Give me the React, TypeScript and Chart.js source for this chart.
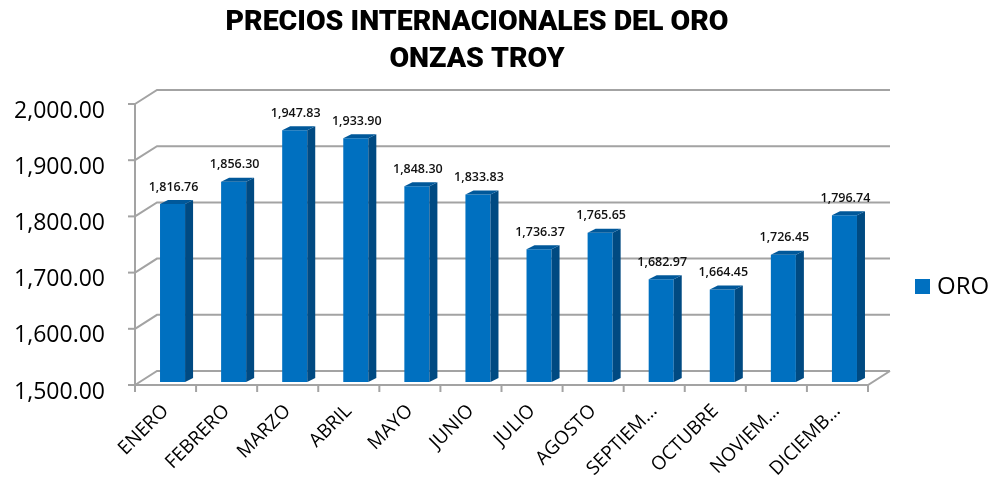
import React, { useEffect, useRef } from 'react';
import { Chart, registerables } from 'chart.js';

Chart.register(...registerables);

// ---- data ----
const months = ['ENERO', 'FEBRERO', 'MARZO', 'ABRIL', 'MAYO', 'JUNIO', 'JULIO', 'AGOSTO', 'SEPTIEM…', 'OCTUBRE', 'NOVIEM…', 'DICIEMB…'];
const oroValues = [1816.76, 1856.3, 1947.83, 1933.9, 1848.3, 1833.83, 1736.37, 1765.65, 1682.97, 1664.45, 1726.45, 1796.74];
const seriesName = 'ORO';
const titleLines = ['PRECIOS INTERNACIONALES DEL ORO', 'ONZAS TROY'];
const yMin = 1500;
const yMax = 2000;
const yStep = 100;

// ---- style ----
const FRONT_COLOR = '#0070C0';
const TOP_COLOR = '#00589A';
const SIDE_COLOR = '#004A82';
const GRID_COLOR = '#A3A3A3';
const FRONT = { dx: -7, dy: 3 };
const BACK = { dx: 15, dy: -11 };
const SIDE = { dx: 8, dy: -4 };

const fmt = (v: number) =>
  v.toLocaleString('en-US', { minimumFractionDigits: 2, maximumFractionDigits: 2 });

const wallsPlugin = {
  id: 'walls3d',
  afterLayout(chart: any) {
    const t = chart.titleBlock;
    if (t) {
      t.right = chart.width - 45;
      t.width = t.right - t.left;
    }
  },
  beforeDatasetsDraw(chart: any) {
    const { ctx, chartArea: ca } = chart;
    const ys = chart.scales.y;
    const xs = chart.scales.x;
    ctx.save();
    ctx.strokeStyle = GRID_COLOR;
    ctx.lineWidth = 2;
    ctx.lineCap = 'butt';
    for (let v = yMin; v <= yMax; v += yStep) {
      const py = ys.getPixelForValue(v);
      ctx.beginPath();
      ctx.moveTo(ca.left + FRONT.dx, py + FRONT.dy);
      ctx.lineTo(ca.left + BACK.dx, py + BACK.dy);
      ctx.lineTo(ca.right + BACK.dx, py + BACK.dy);
      ctx.stroke();
      ctx.beginPath();
      ctx.moveTo(ca.left + FRONT.dx - 7, py + FRONT.dy);
      ctx.lineTo(ca.left + FRONT.dx, py + FRONT.dy);
      ctx.stroke();
    }
    const top = ys.getPixelForValue(yMax);
    const base = ys.getPixelForValue(yMin);
    ctx.beginPath();
    ctx.moveTo(ca.left + FRONT.dx, top + FRONT.dy);
    ctx.lineTo(ca.left + FRONT.dx, base + FRONT.dy + 1);
    ctx.stroke();
    ctx.beginPath();
    ctx.moveTo(ca.left + FRONT.dx, base + FRONT.dy);
    ctx.lineTo(ca.right + FRONT.dx, base + FRONT.dy);
    ctx.lineTo(ca.right + BACK.dx, base + BACK.dy);
    ctx.stroke();
    const n = months.length;
    const step = n > 1 ? xs.getPixelForValue(1) - xs.getPixelForValue(0) : ca.width;
    for (let i = 0; i <= n; i++) {
      const px = xs.getPixelForValue(0) - step / 2 + i * step + FRONT.dx;
      ctx.beginPath();
      ctx.moveTo(px, base + FRONT.dy);
      ctx.lineTo(px, base + FRONT.dy + 7);
      ctx.stroke();
    }
    ctx.restore();
  },
  afterDatasetsDraw(chart: any) {
    const { ctx } = chart;
    const ys = chart.scales.y;
    const meta = chart.getDatasetMeta(0);
    const data = chart.data.datasets[0].data as number[];
    const floor = ys.getPixelForValue(yMin);
    ctx.save();
    meta.data.forEach((bar: any, i: number) => {
      const p = bar.getProps(['x', 'y', 'width', 'base'], true);
      const x = p.x, y = p.y, width = p.width;
      const base = Math.min(p.base, floor);
      const l = x - width / 2;
      const r = x + width / 2;
      ctx.fillStyle = SIDE_COLOR;
      ctx.beginPath();
      ctx.moveTo(r, y);
      ctx.lineTo(r + SIDE.dx, y + SIDE.dy);
      ctx.lineTo(r + SIDE.dx, base + SIDE.dy);
      ctx.lineTo(r, base);
      ctx.closePath();
      ctx.fill();
      ctx.fillStyle = TOP_COLOR;
      ctx.beginPath();
      ctx.moveTo(l, y);
      ctx.lineTo(l + SIDE.dx, y + SIDE.dy);
      ctx.lineTo(r + SIDE.dx, y + SIDE.dy);
      ctx.lineTo(r, y);
      ctx.closePath();
      ctx.fill();
      ctx.fillStyle = '#111';
      ctx.font = '600 12.5px "Open Sans"';
      ctx.textAlign = 'center';
      ctx.textBaseline = 'middle';
      ctx.fillText(fmt(data[i]), x + 1, y - 17);
    });
    ctx.restore();
  },
  afterDraw(chart: any) {
    const { ctx, chartArea: ca } = chart;
    const ds = chart.data.datasets[0];
    const lx = ca.right + 40;
    const ly = (ca.top + ca.bottom) / 2 + 45;
    ctx.save();
    ctx.fillStyle = ds.backgroundColor;
    ctx.fillRect(lx, ly - 7.5, 15, 15);
    ctx.fillStyle = '#000';
    ctx.font = '24px "Open Sans"';
    ctx.textAlign = 'left';
    ctx.textBaseline = 'middle';
    ctx.fillText(ds.label, lx + 22, ly + 1);
    ctx.restore();
  },
};

export default function App() {
  const ref = useRef<HTMLCanvasElement | null>(null);
  useEffect(() => {
    if (!ref.current) return;
    const chart = new Chart(ref.current, {
      type: 'bar',
      data: {
        labels: months,
        datasets: [
          {
            label: seriesName,
            data: oroValues,
            base: yMin,
            backgroundColor: FRONT_COLOR,
            borderWidth: 0,
            categoryPercentage: 1,
            barPercentage: 0.41,
          } as any,
        ],
      },
      options: {
        animation: false,
        responsive: false,
        layout: { padding: { left: 8, right: 116, top: 0, bottom: 0 } },
        plugins: {
          legend: { display: false },
          tooltip: { enabled: false },
          title: {
            display: true,
            text: titleLines,
            color: '#000',
            font: { family: 'Roboto', size: 28.5, weight: '900', lineHeight: 37 / 28.5 },
            padding: { top: 4, bottom: 23 },
          },
        },
        scales: {
          x: {
            grid: { display: false },
            border: { display: false },
            ticks: {
              autoSkip: false,
              maxRotation: 45,
              minRotation: 45,
              padding: 10,
              labelOffset: -7,
              color: '#000',
              font: { family: 'Open Sans', size: 19 },
            },
            afterFit: (s: any) => {
              s.height = 96;
            },
          },
          y: {
            min: yMin,
            max: yMax,
            grid: { display: false, drawTicks: false },
            border: { display: false },
            ticks: {
              stepSize: yStep,
              padding: 37,
              labelOffset: 10,
              color: '#000',
              font: { family: 'Open Sans', size: 23 },
              callback: (v: any) => fmt(Number(v)),
            },
            afterFit: (s: any) => {
              s.width = 134;
            },
          },
        },
      },
      plugins: [wallsPlugin],
    });
    return () => chart.destroy();
  }, []);
  return (
    <div style={{ position: 'fixed', left: 0, top: 0, width: 991, height: 478, background: '#fff' }}>
      <canvas ref={ref} width={991} height={478} style={{ display: 'block' }} />
    </div>
  );
}
